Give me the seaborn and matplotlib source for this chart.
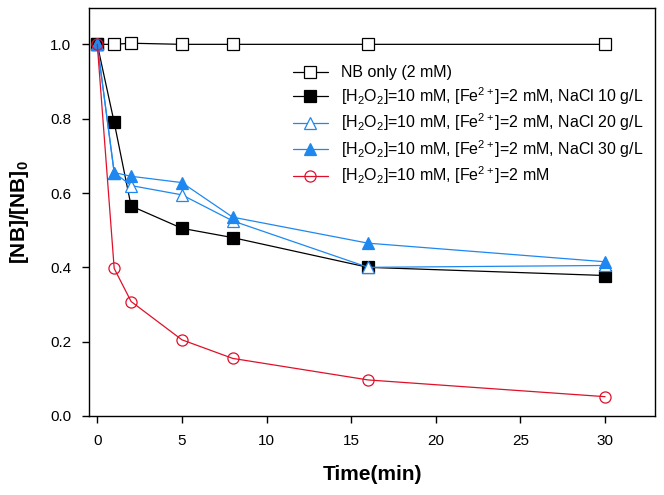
import pandas as pd
import matplotlib.pyplot as plt
import seaborn as sns

# 数据
time = [0, 1, 2, 5, 8, 16, 30]
nb_only = [1.0, 1.0, 1.003, 1.0, 1.0, 1.0, 1.0]
nacl_10 = [1.0, 0.79, 0.565, 0.505, 0.48, 0.40, 0.378]
nacl_20 = [1.0, 0.655, 0.62, 0.595, 0.525, 0.40, 0.405]
nacl_30 = [1.0, 0.655, 0.645, 0.628, 0.535, 0.465, 0.415]
fenton = [1.0, 0.397, 0.308, 0.205, 0.155, 0.097, 0.052]

labels = [
    'NB only (2 mM)',
    r'[H$_2$O$_2$]=10 mM, [Fe$^{2+}$]=2 mM, NaCl 10 g/L',
    r'[H$_2$O$_2$]=10 mM, [Fe$^{2+}$]=2 mM, NaCl 20 g/L',
    r'[H$_2$O$_2$]=10 mM, [Fe$^{2+}$]=2 mM, NaCl 30 g/L',
    r'[H$_2$O$_2$]=10 mM, [Fe$^{2+}$]=2 mM',
]

sns.set_style('ticks')
plt.rcParams['font.family'] = ['Liberation Sans', 'DejaVu Sans']
plt.rcParams['mathtext.fontset'] = 'custom'
plt.rcParams['mathtext.rm'] = 'Liberation Sans'
plt.rcParams['mathtext.it'] = 'Liberation Sans:italic'
plt.rcParams['mathtext.bf'] = 'Liberation Sans:bold'
plt.rcParams['text.color'] = 'black'
plt.rcParams['xtick.color'] = 'black'
plt.rcParams['ytick.color'] = 'black'
plt.rcParams['axes.labelcolor'] = 'black'

blue = '#1E88F0'
red = '#E0102A'

# 每条线的样式
styles = [
    dict(color='black', marker='s', markerfacecolor='white', markeredgecolor='black'),
    dict(color='black', marker='s', markerfacecolor='black', markeredgecolor='black'),
    dict(color=blue, marker='^', markerfacecolor='white', markeredgecolor=blue),
    dict(color=blue, marker='^', markerfacecolor=blue, markeredgecolor=blue),
    dict(color=red, marker='o', markerfacecolor='none', markeredgecolor=red),
]
series = [nb_only, nacl_10, nacl_20, nacl_30, fenton]

fig = plt.figure(figsize=(6.64, 4.95), dpi=100)
ax = fig.add_axes([0.1345, 0.1596, 0.8525, 0.8244])

for vals, lab, st in zip(series, labels, styles):
    df = pd.DataFrame({'Time': time, 'Ratio': vals})
    sns.lineplot(data=df, x='Time', y='Ratio', ax=ax, label=lab,
                 linewidth=0.9, markersize=8, markeredgewidth=0.9, **st)

ax.set_xlim(-0.47, 32.97)
ax.set_ylim(0, 1.098)
ax.set_xticks([0, 5, 10, 15, 20, 25, 30])
ax.set_yticks([0.0, 0.2, 0.4, 0.6, 0.8, 1.0])
ax.set_yticklabels(['0.0', '0.2', '0.4', '0.6', '0.8', '1.0'])
ax.tick_params(axis='both', direction='out', length=5, width=1, labelsize=11)
ax.tick_params(axis='y', pad=8)
ax.tick_params(axis='x', pad=8)
for sp in ax.spines.values():
    sp.set_visible(True)
    sp.set_linewidth(1.0)
    sp.set_color('black')

ax.set_xlabel('Time(min)', fontsize=15, fontweight='bold', labelpad=12)
ax.set_ylabel(r'[NB]/[NB]$_\mathbf{0}$', fontsize=15, fontweight='bold', labelpad=14)

ax.legend(loc='upper left', bbox_to_anchor=(0.348, 0.875), frameon=False,
          fontsize=11.5, handlelength=2.2, labelspacing=0.3, borderaxespad=0)

plt.savefig('out.png', dpi=100)
